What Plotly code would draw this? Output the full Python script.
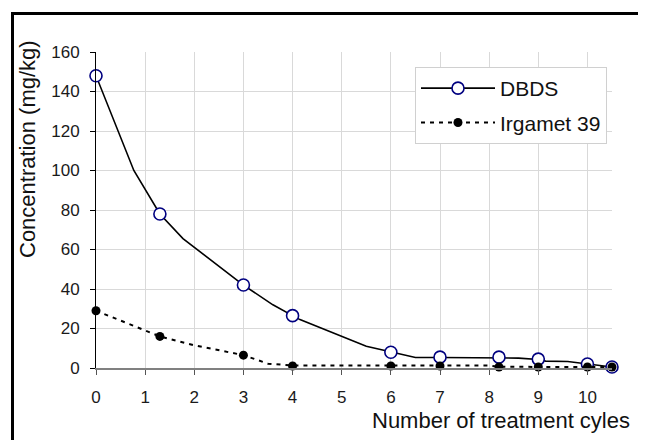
import plotly.graph_objects as go

# Marker points (measured cycles)
cycles = [0, 1.3, 3, 4, 6, 7, 8.2, 9, 10, 10.5]
dbds = [148, 78, 42, 26.5, 8, 5.5, 5.5, 4.5, 2, 0.5]
irgamet = [29, 16, 6.5, 1, 1, 1, 0.5, 0.5, 0.5, 0.5]

# Curve points for the connecting lines
dbds_curve_x = [0, 0.77, 1.3, 1.77, 3, 3.6, 4, 4.15, 5.5, 6, 6.5, 7, 8.2, 8.6, 9, 9.15, 9.6, 10, 10.5]
dbds_curve_y = [148, 100, 78, 65.5, 42, 32, 26.5, 24.5, 11, 8, 5.3, 5.3, 5.3, 5, 4.3, 3.5, 3.3, 2, 0.5]
irg_curve_x = [0, 1.3, 2, 3, 3.5, 4, 8, 8.2, 10.5]
irg_curve_y = [29, 16, 11.5, 6.5, 2.2, 1.3, 1.3, 0.6, 0.5]

font = "Liberation Sans, Arial, Helvetica, sans-serif"
navy = "#000080"

fig = go.Figure()
fig.add_trace(go.Scatter(x=dbds_curve_x, y=dbds_curve_y, mode="lines",
                         line=dict(color="black", width=1.6), showlegend=False,
                         hoverinfo="skip", cliponaxis=False))
fig.add_trace(go.Scatter(x=cycles, y=dbds, mode="markers",
                         marker=dict(symbol="circle", size=12, color="white",
                                     line=dict(color=navy, width=1.6)),
                         showlegend=False, cliponaxis=False))
fig.add_trace(go.Scatter(x=irg_curve_x, y=irg_curve_y, mode="lines",
                         line=dict(color="black", width=2, dash="4px,5px"),
                         showlegend=False, hoverinfo="skip", cliponaxis=False))
fig.add_trace(go.Scatter(x=cycles, y=irgamet, mode="markers",
                         marker=dict(symbol="circle", size=9, color="black"),
                         showlegend=False, cliponaxis=False))
# legend entries
fig.add_trace(go.Scatter(x=[None], y=[None], mode="lines+markers", name="DBDS",
                         legendgroup="a",
                         line=dict(color="black", width=1.6),
                         marker=dict(symbol="circle", size=12, color="white",
                                     line=dict(color=navy, width=1.6))))
fig.add_trace(go.Scatter(x=[None], y=[None], mode="lines+markers", name="Irgamet 39",
                         legendgroup="b",
                         line=dict(color="black", width=2, dash="4px,5px"),
                         marker=dict(symbol="circle", size=9, color="black")))

OFF = 8  # page body margin
W, H = 646 - OFF, 440 - OFF
L, R, T, B = 96 - OFF, 34, 52 - OFF, 72
pw, ph = W - L - R, H - T - B

def px2x(p):
    return (p - OFF - L) / pw

def px2y(p):
    return (H - B - (p - OFF)) / ph

fig.update_layout(
    width=W, height=H,
    margin=dict(l=L, r=R, t=T, b=B),
    paper_bgcolor="white", plot_bgcolor="white",
    font=dict(family=font, color="#1a1a1a", size=17),
    xaxis=dict(range=[0, 10.5], tickmode="array", tickvals=list(range(11)),
               showgrid=True, gridcolor="#d9d9d9", gridwidth=1,
               zeroline=False, showline=True, linecolor="#808080", linewidth=1.5,
               ticks="outside", ticklen=5, tickcolor="#555555",
               ticklabelstandoff=8,
               tickfont=dict(size=17, family=font)),
    yaxis=dict(range=[0, 160], tickmode="array", tickvals=list(range(0, 161, 20)),
               showgrid=True, gridcolor="#d9d9d9", gridwidth=1,
               zeroline=False, showline=True, linecolor="black", linewidth=1,
               ticks="outside", ticklen=5, tickcolor="black",
               ticklabelstandoff=7,
               tickfont=dict(size=17, family=font)),
    legend=dict(x=px2x(415), y=px2y(67), xanchor="left", yanchor="top",
                bgcolor="white", bordercolor="#d0d0d0", borderwidth=1,
                font=dict(size=21, family=font, color="#111111"),
                traceorder="grouped", tracegroupgap=4, itemwidth=74),
    annotations=[
        dict(text="Concentration (mg/kg)", xref="paper", yref="paper",
             x=px2x(27), y=px2y(149), textangle=-90, showarrow=False,
             font=dict(size=22, family=font, color="#111111"),
             xanchor="center", yanchor="middle"),
        dict(text="Number of treatment cyles", xref="paper", yref="paper",
             x=px2x(501), y=px2y(420), showarrow=False,
             font=dict(size=22, family=font, color="#111111"),
             xanchor="center", yanchor="middle"),
    ],
    shapes=[
        dict(type="rect", xref="paper", yref="paper",
             x0=px2x(12.5), y0=px2y(470), x1=px2x(670), y1=px2y(13.5),
             line=dict(color="black", width=3), fillcolor="rgba(0,0,0,0)",
             layer="above"),
    ],
)

fig.write_html("out.html")
